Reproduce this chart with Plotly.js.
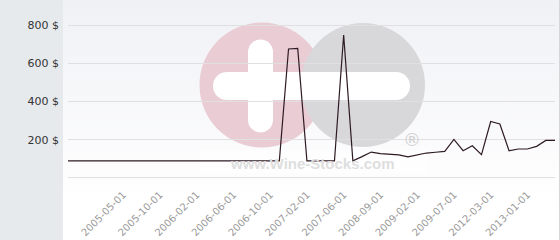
<!DOCTYPE html>
<html>
<head>
<meta charset="utf-8">
<script src="https://cdn.plot.ly/plotly-3.0.1.min.js"></script>
<style>
html,body{margin:0;padding:0;}
#chart{width:560px;height:240px;
background: linear-gradient(to right, #e6eaed 0px, #e6eaed 63px, rgba(0,0,0,0) 63px),
            linear-gradient(to bottom, #f0f1f5 0%, #ffffff 85%);
box-sizing:border-box;border-right:1px solid #d6d6d6;}
</style>
</head>
<body>
<div id="chart"></div>
<script>
// Point index along the category axis (one per observation)
const pointIndex = [0,1,2,3,4,5,6,7,8,9,10,11,12,13,14,15,16,17,18,19,20,21,22,23,24,25,26,27,28,29,30,31,32,33,34,35,36,37,38,39,40,41,42,43,44,45,46,47,48,49,50,51,52,53];
// Price in $
const prices = [89,89,89,89,89,89,89,89,89,89,89,89,89,89,89,89,89,89,89,89,89,89,89,89,
                675,678,89,89,89,89,748,89,111,135,127,122,120,110,118,130,134,139,201,142,168,122,295,282,142,151,151,165,196,196];
// X tick labels and the observation they sit on
const tickLabels = ['2005-05-01','2005-10-01','2006-02-01','2006-06-01','2006-10-01','2007-02-01','2007-06-01','2008-09-01','2009-02-01','2009-07-01','2012-03-01','2013-01-01'];
const tickIndex = [6,10,14,18,22,26,30,34,38,42,46,50];
// Y ticks
const yTickVals = [0,200,400,600,800];
const yTickText = ['','200 $','400 $','600 $','800 $'];

// pixel -> paper helpers for the watermark
const L=68, R=555, T=6, B=179;
const px = v => (v-L)/(R-L);
const py = v => (B-v)/(B-T);
function circ(cx,cy,r,color){
  return {type:'circle',xref:'paper',yref:'paper',layer:'below',
    x0:px(cx-r),x1:px(cx+r),y0:py(cy+r),y1:py(cy-r),
    fillcolor:color,line:{width:0}};
}
function rect(x0,y0,x1,y1,color){
  return {type:'rect',xref:'paper',yref:'paper',layer:'below',
    x0:px(x0),x1:px(x1),y0:py(y1),y1:py(y0),fillcolor:color,line:{width:0}};
}
const pink='#eaccd5', grey='#d8d8da', white='#ffffff';
const shapes=[
  circ(262,85,62.5,pink),
  circ(363,85,62,grey),
  // horizontal bar
  rect(227,72,396,100,white), circ(227,86,14,white), circ(396,86,14,white),
  // vertical bar of the plus
  rect(248,52,273,120,white), circ(260.5,52,12.5,white), circ(260.5,120,12.5,white),
  // faint box behind url
  rect(200,150,428,173,'rgba(255,255,255,0.55)')
];

const trace={x:pointIndex,y:prices,type:'scatter',mode:'lines',
  line:{color:'#2e1a24',width:1.2},hoverinfo:'skip'};

const layout={
  width:560,height:240,
  margin:{l:L,r:560-R,t:T,b:240-B,pad:0},
  paper_bgcolor:'rgba(0,0,0,0)',plot_bgcolor:'rgba(0,0,0,0)',
  showlegend:false,
  shapes:shapes,
  annotations:[
    {xref:'paper',yref:'paper',x:px(312),y:py(163),xanchor:'center',yanchor:'middle',
     text:'<b>www.Wine-Stocks.com</b>',showarrow:false,
     font:{family:'Liberation Sans, Arial, sans-serif',size:15,color:'#dedede'}},
    {xref:'paper',yref:'paper',x:px(412),y:py(139),xanchor:'center',yanchor:'middle',
     text:'®',showarrow:false,
     font:{family:'DejaVu Sans, sans-serif',size:18,color:'#d0d0d2'}}
  ],
  xaxis:{range:[0,53],tickmode:'array',tickvals:tickIndex,ticktext:tickLabels,tickangle:-45,
    showgrid:false,zeroline:false,showline:false,ticks:'',
    tickfont:{family:'DejaVu Sans, Verdana, sans-serif',size:10,color:'#9a9a9a'},ticklabelstandoff:7},
  yaxis:{range:[-6,900],tickmode:'array',tickvals:yTickVals,ticktext:yTickText,
    showgrid:true,gridcolor:'#e0e0e0',gridwidth:1,zeroline:false,showline:false,ticks:'',
    tickfont:{family:'DejaVu Sans, Verdana, sans-serif',size:11,color:'#333333'},ticklabelstandoff:8}
};
Plotly.newPlot('chart',[trace],layout,{staticPlot:true,displayModeBar:false});
</script>
</body>
</html>
